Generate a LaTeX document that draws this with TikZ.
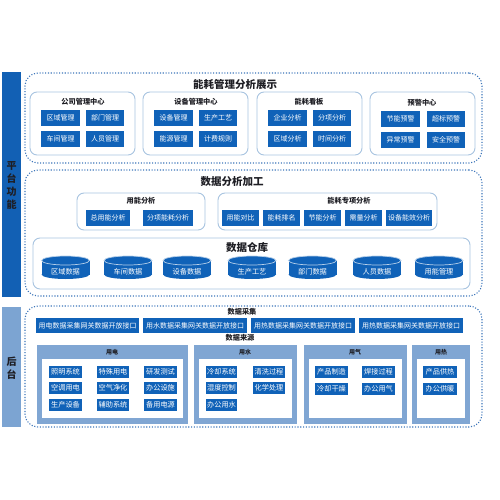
\documentclass[tikz,border=0pt]{standalone}
\usepackage{fontspec}
\newfontfamily\cjk{Noto Sans CJK SC}
\definecolor{btnc}{RGB}{16,98,184}
\definecolor{barc}{RGB}{18,96,180}
\definecolor{lbarc}{RGB}{124,164,210}
\definecolor{midc}{RGB}{128,166,211}
\definecolor{dashc}{RGB}{62,118,186}
\definecolor{subc}{RGB}{168,196,224}
\definecolor{titlec}{RGB}{30,30,36}
\definecolor{cylc}{RGB}{16,98,184}
\tikzset{
 panel/.style={draw=dashc, line width=1.1pt, dash pattern=on 1.1pt off 1.7pt, rounded corners=13pt},
 sub/.style={draw=subc, line width=0.9pt, rounded corners=7pt, fill=white},
 btn/.style={fill=btnc, text=white, inner sep=0pt, font=\cjk\fontsize{7}{7}\selectfont},
 sbtn/.style={btn, font=\cjk\fontsize{7.2}{7}\selectfont},
 bigtitle/.style={font=\cjk\bfseries\fontsize{10.5}{12}\selectfont, text=titlec, inner sep=0pt},
 subtitle/.style={font=\cjk\bfseries\fontsize{7.2}{8}\selectfont, text=titlec, inner sep=0pt},
 srctitle/.style={font=\cjk\bfseries\fontsize{6}{7}\selectfont, text=titlec, inner sep=0pt},
 srcbox/.style={fill=midc, inner sep=0pt},
 inbox/.style={fill=white, inner sep=0pt},
 cyltext/.style={font=\cjk\fontsize{7.2}{7}\selectfont, text=white, inner sep=0pt},
 darkbar/.style={fill=barc, inner sep=0pt},
 lightbar/.style={fill=lbarc, inner sep=0pt},
 bartext/.style={font=\cjk\bfseries\fontsize{10}{13}\selectfont, text=titlec, align=center, inner sep=0pt},
}
\newcommand\RB[7]{\node[#1,minimum width={(#5)-(#3)},minimum height={(#6)-(#4)}] (#2) at ({((#3)+(#5))/2},{((#4)+(#6))/2}) {#7};}
\newcommand\CYL[4]{%
 \fill[cylc] ({#2-24},{#3-7}) rectangle ({#2+24},{#3+7});
 \fill[cylc] (#2,{#3+7}) ellipse [x radius=24pt, y radius=4.5pt];
 \draw[white!70!cylc, fill=cylc, line width=0.7pt] (#2,{#3-7}) ellipse [x radius=24pt, y radius=4.5pt];
 \node[cyltext] (#1) at (#2,{#3+4.5}) {#4};}
\begin{document}
\begin{tikzpicture}[x=1pt,y=-1pt]
\useasboundingbox (0,0) rectangle (500,500);
% side bars
\RB{darkbar}{barA}{2}{72}{21}{297}{}
\node[bartext] (barAt) at (11.5,185) {平\\台\\功\\能};
\RB{lightbar}{barB}{2}{307}{21}{427}{}
\node[bartext] (barBt) at (11.5,368) {后\\台};

% ===== panel 1
\RB{panel}{p1}{25}{73}{482}{163}{}
\node[bigtitle] (t1) at (235,85) {能耗管理分析展示};
% box A
\RB{sub}{sA}{30}{92}{135}{155}{}
\node[subtitle] (tA) at (83,102) {公司管理中心};
\RB{btn}{a1}{41}{110}{80}{126}{区域管理}
\RB{btn}{a2}{86}{110}{124}{126}{部门管理}
\RB{btn}{a3}{41}{131}{80}{147}{车间管理}
\RB{btn}{a4}{86}{131}{124}{147}{人员管理}
% box B
\RB{sub}{sB}{143}{92}{248}{155}{}
\node[subtitle] (tB) at (196,102) {设备管理中心};
\RB{btn}{b1}{154}{110}{193}{126}{设备管理}
\RB{btn}{b2}{199}{110}{237}{126}{生产工艺}
\RB{btn}{b3}{154}{131}{193}{147}{能源管理}
\RB{btn}{b4}{199}{131}{237}{147}{计费规则}
% box C
\RB{sub}{sC}{257}{92}{362}{155}{}
\node[subtitle] (tC) at (309,102) {能耗看板};
\RB{btn}{c1}{268}{110}{307}{126}{企业分析}
\RB{btn}{c2}{313}{110}{351}{126}{分项分析}
\RB{btn}{c3}{268}{131}{307}{147}{区域分析}
\RB{btn}{c4}{313}{131}{351}{147}{时间分析}
% box D
\RB{sub}{sD}{370}{92}{475}{155}{}
\node[subtitle] (tD) at (422,103) {预警中心};
\RB{btn}{d1}{381}{111}{420}{127}{节能预警}
\RB{btn}{d2}{427}{111}{465}{127}{超标预警}
\RB{btn}{d3}{381}{132}{420}{148}{异常预警}
\RB{btn}{d4}{427}{132}{465}{148}{安全预警}

% ===== panel 2
\RB{panel}{p2}{25}{170}{482}{296}{}
\node[bigtitle] (t2) at (232,182) {数据分析加工};
\RB{sub}{sE}{77}{193}{205}{230}{}
\node[subtitle] (tE) at (141,201) {用能分析};
\RB{btn}{e1}{86}{210}{130}{226}{总用能分析}
\RB{btn}{e2}{143}{210}{193}{226}{分项能耗分析}
\RB{sub}{sF}{218}{193}{437}{230}{}
\node[subtitle] (tF) at (349,201) {能耗专项分析};
\RB{btn}{f1}{222}{210}{259}{226}{用能对比}
\RB{btn}{f2}{263}{210}{300}{226}{能耗排名}
\RB{btn}{f3}{304}{210}{341}{226}{节能分析}
\RB{btn}{f4}{345}{210}{382}{226}{需量分析}
\RB{btn}{f5}{386}{210}{432}{226}{设备能效分析}
\RB{sub}{sG}{33}{238}{470}{289}{}
\node[bigtitle] (tG) at (247,248) {数据仓库};
\CYL{g1}{65.5}{267.5}{区域数据}
\CYL{g2}{128}{267.5}{车间数据}
\CYL{g3}{187}{267.5}{设备数据}
\CYL{g4}{252}{267.5}{生产工艺}
\CYL{g5}{312.5}{267.5}{部门数据}
\CYL{g6}{377}{267.5}{人员数据}
\CYL{g7}{439}{267.5}{用能管理}

% ===== panel 3
\RB{panel}{p3}{25}{306}{482}{427}{}
\node[subtitle] (tH) at (242,312) {数据采集};
\RB{btn}{h1}{36}{318}{139}{333}{用电数据采集网关数据开放接口}
\RB{btn}{h2}{143}{318}{247}{333}{用水数据采集网关数据开放接口}
\RB{btn}{h3}{251}{318}{355}{333}{用热数据采集网关数据开放接口}
\RB{btn}{h4}{359}{318}{463}{333}{用热数据采集网关数据开放接口}
\node[subtitle] (tI) at (240,338) {数据来源};
% 用电
\RB{srcbox}{s1}{37}{345}{188}{424}{}
\RB{inbox}{s1i}{42}{359}{183}{418}{}
\node[srctitle] (s1t) at (112,352) {用电};
\RB{sbtn}{k1}{49}{366}{82}{378}{照明系统}
\RB{sbtn}{k2}{97}{366}{129}{378}{特殊用电}
\RB{sbtn}{k3}{144}{366}{177}{378}{研发测试}
\RB{sbtn}{k4}{49}{382}{82}{394}{空调用电}
\RB{sbtn}{k5}{97}{382}{129}{394}{空气净化}
\RB{sbtn}{k6}{144}{382}{177}{394}{办公设施}
\RB{sbtn}{k7}{49}{399}{82}{411}{生产设备}
\RB{sbtn}{k8}{97}{399}{129}{411}{辅助系统}
\RB{sbtn}{k9}{144}{399}{177}{411}{备用电源}
% 用水
\RB{srcbox}{s2}{194}{345}{297}{424}{}
\RB{inbox}{s2i}{199}{359}{292}{418}{}
\node[srctitle] (s2t) at (245,352) {用水};
\RB{sbtn}{w1}{206}{366}{237}{378}{冷却系统}
\RB{sbtn}{w2}{253}{366}{285}{378}{清洗过程}
\RB{sbtn}{w3}{206}{382}{237}{394}{湿度控制}
\RB{sbtn}{w4}{253}{382}{285}{394}{化学处理}
\RB{sbtn}{w5}{206}{399}{237}{411}{办公用水}
% 用气
\RB{srcbox}{s3}{304}{345}{407}{424}{}
\RB{inbox}{s3i}{309}{359}{402}{418}{}
\node[srctitle] (s3t) at (355,352) {用气};
\RB{sbtn}{q1}{315}{366}{348}{378}{产品制造}
\RB{sbtn}{q2}{362}{366}{395}{378}{焊接过程}
\RB{sbtn}{q3}{315}{383}{348}{395}{冷却干燥}
\RB{sbtn}{q4}{362}{383}{395}{395}{办公用气}
% 用热
\RB{srcbox}{s4}{412}{345}{470}{424}{}
\RB{inbox}{s4i}{417}{359}{465}{418}{}
\node[srctitle] (s4t) at (441,352) {用热};
\RB{sbtn}{r1}{423}{366}{457}{378}{产品供热}
\RB{sbtn}{r2}{423}{383}{457}{395}{办公供暖}
\end{tikzpicture}
\end{document}
